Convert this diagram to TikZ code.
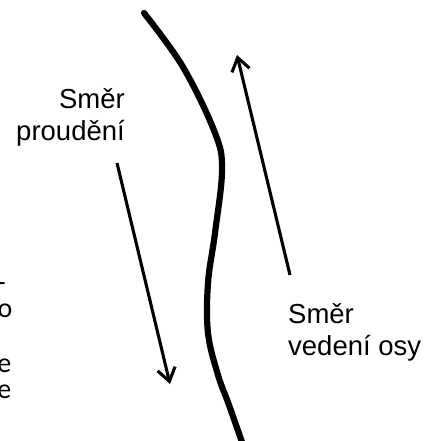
\documentclass[tikz,border=0pt]{standalone}
\usepackage{fontspec}
\setmainfont{Liberation Sans}
\newfontfamily\pagefont{Carlito}
\usetikzlibrary{arrows.meta}
\tikzset{
  lbl/.style={inner sep=0pt, font=\fontsize{27.5}{31.5}\selectfont},
  frag/.style={inner sep=0pt, anchor=base east, font=\pagefont\fontsize{28}{30}\selectfont},
  flowarrow/.style={line width=3.1pt, -{Straight Barb[length=13pt,width=18pt,line width=3.1pt]}},
  axisline/.style={line width=6.2pt, line cap=round}
}
\begin{document}
\begin{tikzpicture}[x=1pt,y=-1pt]
\useasboundingbox (0,0) rectangle (427,441);
\clip (0,0) rectangle (427,441);
% cut-off text from the neighbouring column
\node[frag] (f1) at (6,291) {n-};
\node[frag] (f2) at (12.5,317) {o};
\node[frag] (f3) at (11.5,372) {e};
\node[frag] (f4) at (11.5,398) {e};
% labels
\node[lbl, anchor=base east] (l1a) at (125,108) {Směr};
\node[lbl, anchor=base east] (l1b) at (125,140) {proudění};
\node[lbl, anchor=base west] (l2a) at (288,323) {Směr};
\node[lbl, anchor=base west] (l2b) at (288,355) {vedení osy};
% thick axis curve
\draw[axisline] plot[smooth, tension=0.6] coordinates {(144,13) (183,67) (215,133) (222,170) (215,233) (208,283) (208,333) (218,375) (229,405) (243,445)};
% arrows
\coordinate (a1s) at (117,163);
\coordinate (a1e) at (170,384);
\coordinate (a2s) at (290,275);
\coordinate (a2e) at (237,55);
\draw[flowarrow] (a1s) -- (a1e);
\draw[flowarrow] (a2s) -- (a2e);
\end{tikzpicture}
\end{document}
